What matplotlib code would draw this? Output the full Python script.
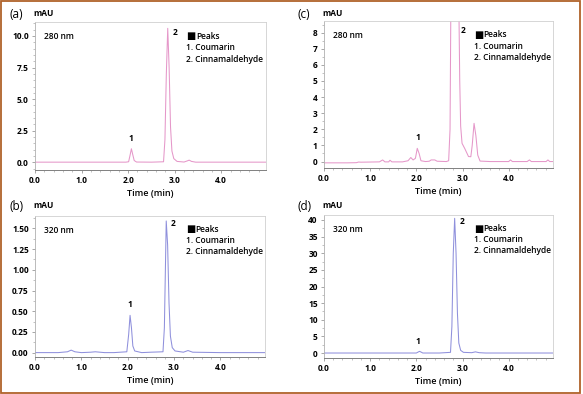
import matplotlib
matplotlib.use("Agg")
import matplotlib.pyplot as plt
from matplotlib.ticker import MultipleLocator, AutoMinorLocator, FormatStrFormatter
from matplotlib.patches import Rectangle

plt.rcParams['font.family'] = ['Open Sans', 'DejaVu Sans']

# ---------------- data ----------------
t_a = [0, 0.5, 1.0, 1.5, 1.95, 2.01, 2.04, 2.07, 2.10, 2.13, 2.18, 2.5, 2.76, 2.79, 2.82,
       2.85, 2.88, 2.91, 2.94, 2.98, 3.05, 3.2, 3.27, 3.31, 3.36, 3.45, 4.0, 4.5, 5.0]
y_a = [0.02, 0.02, 0.02, 0.02, 0.02, 0.05, 0.55, 1.08, 0.6, 0.15, 0.03, 0.02, 0.05, 1.8, 7.0,
       10.6, 7.5, 2.8, 0.9, 0.3, 0.08, 0.03, 0.12, 0.18, 0.08, 0.02, 0.02, 0.02, 0.02]

t_b = [0, 0.5, 0.7, 0.78, 0.86, 1.0, 1.2, 1.3, 1.5, 1.7, 1.98, 2.02, 2.05, 2.08, 2.11, 2.15,
       2.3, 2.5, 2.76, 2.79, 2.83, 2.86, 2.89, 2.92, 2.96, 3.02, 3.2, 3.3, 3.4, 4.0, 5.0]
y_b = [0.0, 0.0, 0.01, 0.03, 0.01, 0.0, 0.005, 0.01, 0.0, 0.0, 0.01, 0.22, 0.45, 0.3, 0.08, 0.02,
       0.0, 0.005, 0.01, 0.3, 1.59, 1.3, 0.6, 0.2, 0.06, 0.02, 0.005, 0.025, 0.005, 0.0, 0.0]

t_c = [0, 0.5, 0.7, 0.75, 0.8, 1.0, 1.2, 1.27, 1.32, 1.4, 1.43, 1.47, 1.7, 1.82, 1.88, 1.93,
       1.98, 2.02, 2.06, 2.10, 2.2, 2.28, 2.32, 2.4, 2.45, 2.65, 2.70, 2.73, 2.76, 2.83, 2.90,
       2.94, 2.96, 2.99, 3.05, 3.13, 3.18, 3.21, 3.25, 3.29, 3.33, 3.38, 3.6, 4.0, 4.04, 4.08,
       4.4, 4.45, 4.49, 4.81, 4.85, 4.89, 5.0]
y_c = [-0.08, -0.08, -0.07, -0.03, -0.04, -0.03, -0.02, 0.1, -0.02, -0.02, 0.08, -0.02, -0.02,
       0.05, 0.25, 0.1, 0.2, 0.82, 0.5, 0.05, 0.0, 0.02, 0.1, 0.1, 0.02, 0.0, 0.05, 2.0, 15.0,
       30.0, 15.0, 5.0, 2.2, 1.13, 0.8, 0.31, 0.3, 1.0, 2.37, 1.6, 0.4, 0.03, 0.0, 0.0, 0.1, 0.0,
       0.0, 0.1, 0.0, 0.0, 0.1, 0.0, 0.0]

t_d = [0, 1.0, 2.0, 2.04, 2.07, 2.10, 2.14, 2.5, 2.74, 2.77, 2.80, 2.83, 2.86, 2.89, 2.92,
       2.96, 3.02, 3.2, 3.28, 3.36, 3.5, 5.0]
y_d = [0, 0, 0, 0.3, 0.5, 0.3, 0, 0, 0.2, 8, 30, 40.5, 30, 12, 3, 0.8, 0.2, 0.1, 0.35, 0.1, 0, 0]

x_ticks = [0.0, 1.0, 2.0, 3.0, 4.0]
legend_title = "Peaks"
legend_lines = ["1. Coumarin", "2. Cinnamaldehyde"]

pink = '#e597c9'
lav = '#8f90dc'

W, H = 583, 394
fig = plt.figure(figsize=(W / 100, H / 100), dpi=100)


def px_rect(l, t, r, b):
    return [l / W, 1 - b / H, (r - l) / W, (b - t) / H]


panels = [
    dict(rect=px_rect(35, 22, 266, 170), t=t_a, y=y_a, c=pink, ylim=(-0.6, 11.1), ymaj=2.5,
         fmt='%.1f', yminor=5, tag='(a)', tagxy=(9, 14), mauxy=(33, 14), nm='280 nm',
         p1=(2.07, 1.9), p2=(2.96, 10.3)),
    dict(rect=px_rect(324, 21, 553, 168), t=t_c, y=y_c, c=pink, ylim=(-0.4, 8.72), ymaj=1,
         fmt='%d', yminor=2, tag='(c)', tagxy=(298, 14), mauxy=(322, 14), nm='280 nm',
         p1=(2.04, 1.5), p2=(2.97, 8.15)),
    dict(rect=px_rect(35, 216, 265, 357), t=t_b, y=y_b, c=lav, ylim=(-0.053, 1.65), ymaj=0.25,
         fmt='%.2f', yminor=2, tag='(b)', tagxy=(9, 206), mauxy=(33, 206), nm='320 nm',
         p1=(2.05, 0.58), p2=(2.93, 1.56)),
    dict(rect=px_rect(324, 215, 553, 358), t=t_d, y=y_d, c=lav, ylim=(-1.5, 41.5), ymaj=5,
         fmt='%d', yminor=2, tag='(d)', tagxy=(298, 206), mauxy=(322, 206), nm='320 nm',
         p1=(2.04, 3.5), p2=(2.93, 39.5)),
]

for p in panels:
    ax = fig.add_axes(p['rect'])
    ax.plot(p['t'], p['y'], color=p['c'], lw=0.75)
    ax.set_xlim(0, 4.96)
    ax.set_ylim(*p['ylim'])
    ax.set_xticks(x_ticks)
    ax.xaxis.set_major_formatter(FormatStrFormatter('%.1f'))
    ax.xaxis.set_minor_locator(AutoMinorLocator(5))
    ax.yaxis.set_major_locator(MultipleLocator(p['ymaj']))
    ax.yaxis.set_major_formatter(FormatStrFormatter(p['fmt']))
    ax.yaxis.set_minor_locator(AutoMinorLocator(p['yminor']))
    ax.set_ylim(*p['ylim'])
    for s in ['top', 'right']:
        ax.spines[s].set_color('#d0d0d0')
        ax.spines[s].set_linewidth(0.6)
    ax.spines['left'].set_color('#b0b0b0')
    ax.spines['left'].set_linewidth(0.6)
    ax.spines['bottom'].set_color('#808080')
    ax.spines['bottom'].set_linewidth(0.7)
    ax.tick_params(which='major', length=2.5, width=0.6, color='#999999', pad=2,
                   labelsize=6)
    ax.tick_params(which='minor', length=1.5, width=0.5, color='#aaaaaa')
    for lab in ax.get_xticklabels() + ax.get_yticklabels():
        lab.set_fontweight('bold')
    ax.set_xlabel('Time (min)', fontsize=6.5, fontweight='semibold', labelpad=3)
    ax.text(0.04, 0.90, p['nm'], transform=ax.transAxes, fontsize=6,
            fontweight='semibold', va='center', ha='left')
    ax.text(p['p1'][0], p['p1'][1], '1', fontsize=6, fontweight='bold', ha='center',
            va='center')
    ax.text(p['p2'][0], p['p2'][1], '2', fontsize=6, fontweight='bold', ha='left',
            va='center')
    step = 0.075 * (148 / 143)
    ax.text(0.655, 0.905, "\u25a0", transform=ax.transAxes, fontsize=7,
            va='center', ha='left', family=['DejaVu Sans'])
    ax.text(0.697, 0.905, legend_title, transform=ax.transAxes, fontsize=6,
            fontweight='semibold', va='center', ha='left')
    for i, line in enumerate(legend_lines):
        ax.text(0.655, 0.905 - (i + 1) * step, line, transform=ax.transAxes,
                fontsize=6, fontweight='semibold', va='center', ha='left')
    fig.text(p['tagxy'][0] / W, 1 - p['tagxy'][1] / H, p['tag'], fontsize=8.5,
             ha='left', va='center')
    fig.text(p['mauxy'][0] / W, 1 - p['mauxy'][1] / H, 'mAU', fontsize=6,
             fontweight='bold', ha='left', va='center')

fig.patches.append(Rectangle((0.8 / W, 1.5 / H), 579.5 / W, 391.5 / H, transform=fig.transFigure,
                             fill=False, edgecolor='#b0622a', lw=1.3))

fig.savefig('out.png', dpi=100)
